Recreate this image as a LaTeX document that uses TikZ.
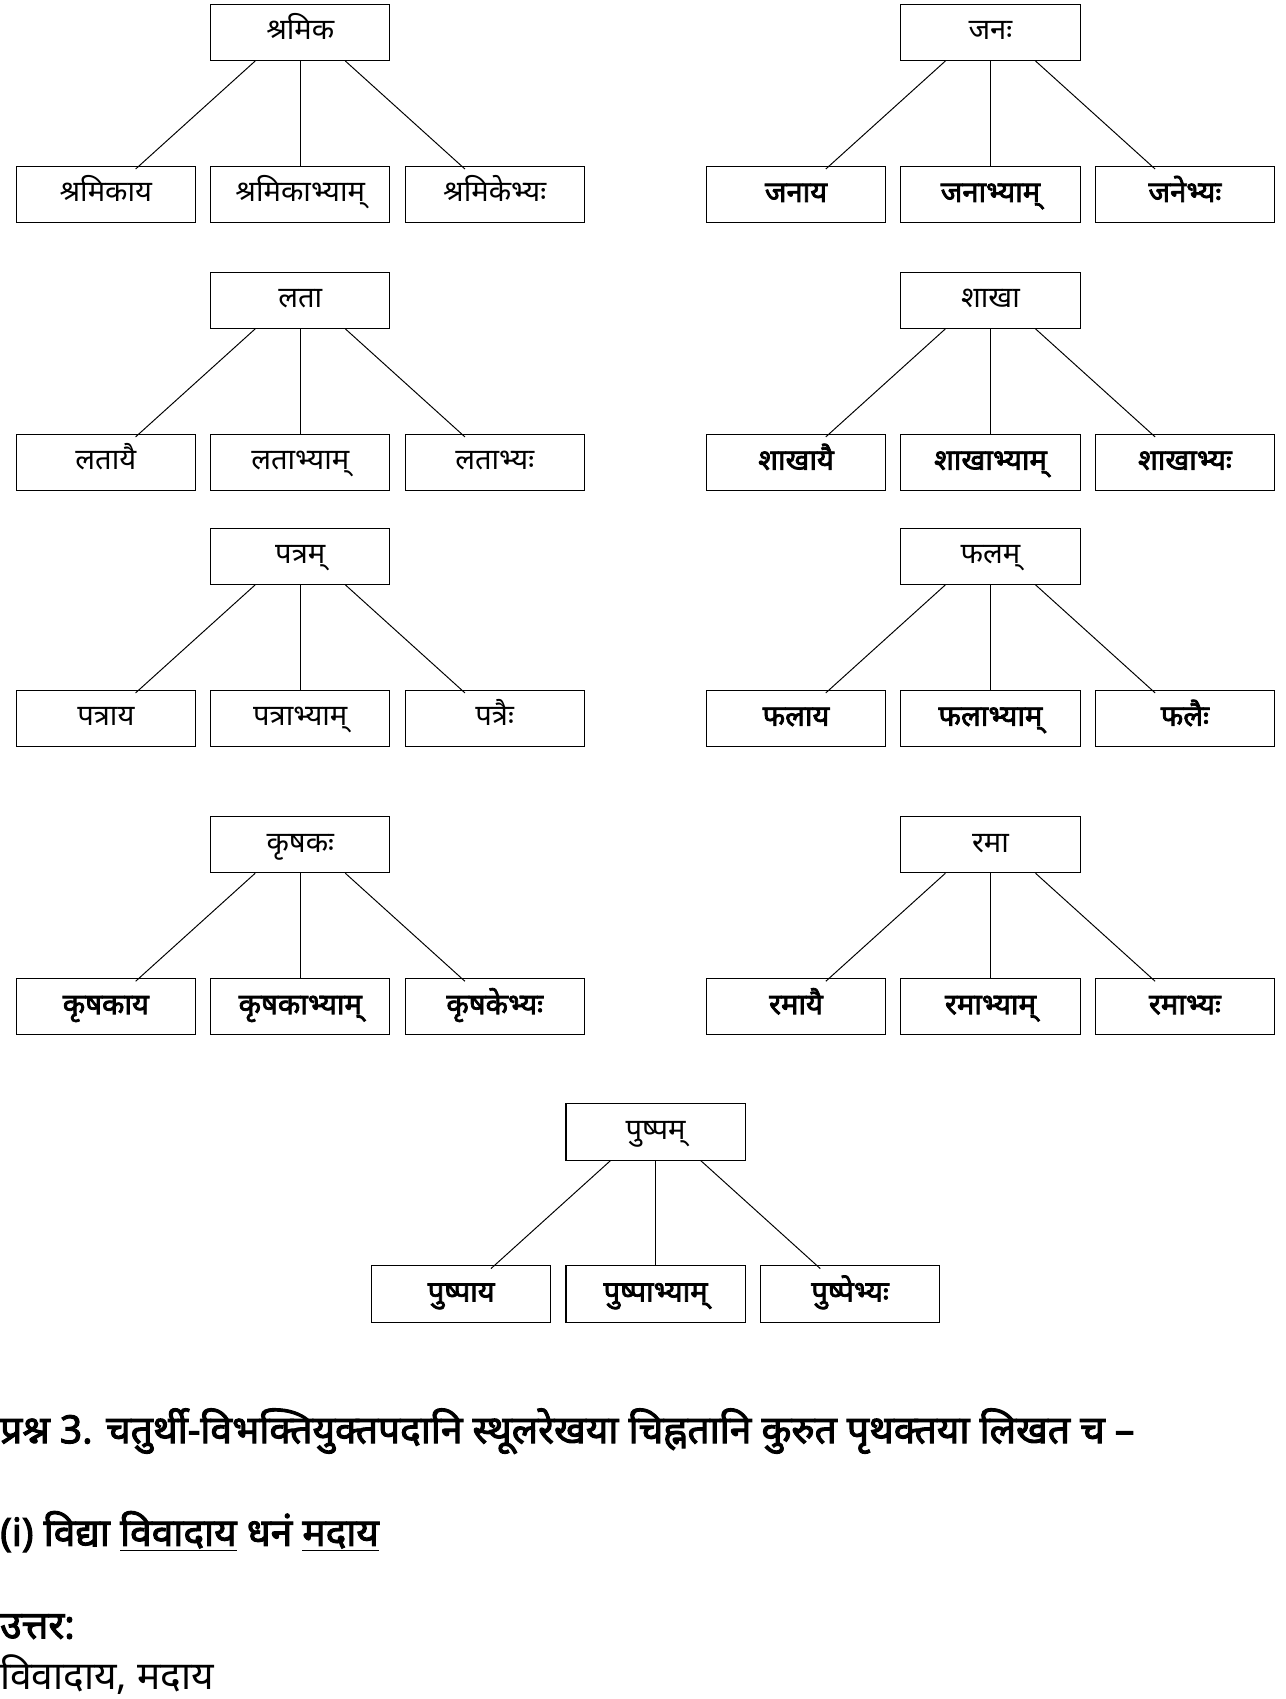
\documentclass[tikz,border=0pt]{standalone}
\usepackage{fontspec}
\setmainfont[Script=Devanagari, AutoFakeBold=2.5]{Noto Sans}
\usetikzlibrary{positioning,calc}
\tikzstyle{wbox}=[draw, line width=1pt, minimum width=166pt, minimum height=52pt, inner sep=0pt, text height=20pt, text depth=6pt, font=\fontsize{27}{30}\selectfont]
\tikzstyle{branch}=[line width=0.9pt]
\newcommand{\wordtree}[8]{%
  \node(#1t) [wbox] at (#2, #3){#4};
  \node(#1a) [wbox, font=\fontsize{27}{30}\selectfont#8] at (#2-180, #3+150){#5};
  \node(#1b) [wbox, font=\fontsize{27}{30}\selectfont#8] at (#2, #3+150){#6};
  \node(#1c) [wbox, font=\fontsize{27}{30}\selectfont#8] at (#2+180, #3+150){#7};
  \draw[branch] ($(#1t.south)!0.5!(#1t.south west)$) to ($(#1a.north)!0.33!(#1a.north east)+(0,3)$);
  \draw[branch] (#1t.south) to (#1b.north);
  \draw[branch] ($(#1t.south)!0.5!(#1t.south east)$) to ($(#1c.north)!0.33!(#1c.north west)+(0,3)$);
}
\begin{document}
\begin{tikzpicture}[x=1pt, y=-1pt]
  \useasboundingbox (0,0) rectangle (1190,1573);
  \wordtree{sh}{278}{30}{श्रमिक}{श्रमिकाय}{श्रमिकाभ्याम्}{श्रमिकेभ्यः}{}
  \wordtree{jn}{917}{30}{जनः}{जनाय}{जनाभ्याम्}{जनेभ्यः}{\bfseries}
  \wordtree{lt}{278}{278}{लता}{लतायै}{लताभ्याम्}{लताभ्यः}{}
  \wordtree{sk}{917}{278}{शाखा}{शाखायै}{शाखाभ्याम्}{शाखाभ्यः}{\bfseries}
  \wordtree{pt}{278}{515}{पत्रम्}{पत्राय}{पत्राभ्याम्}{पत्रैः}{}
  \wordtree{fl}{917}{515}{फलम्}{फलाय}{फलाभ्याम्}{फलैः}{\bfseries}
  \wordtree{kr}{278}{782}{कृषकः}{कृषकाय}{कृषकाभ्याम्}{कृषकेभ्यः}{\bfseries}
  \wordtree{rm}{917}{782}{रमा}{रमायै}{रमाभ्याम्}{रमाभ्यः}{\bfseries}
  \wordtree{pu}{607}{1048}{पुष्पम्}{पुष्पाय}{पुष्पाभ्याम्}{पुष्पेभ्यः}{\bfseries}
  % question and answer
  \node(q) [anchor=west, font=\fontsize{36}{40}\selectfont\bfseries, inner sep=0pt] at (0,1325){प्रश्न 3. चतुर्थी-विभक्तियुक्तपदानि स्थूलरेखया चिह्नतानि कुरुत पृथक्तया लिखत च –};
  \node(ex) [anchor=west, font=\fontsize{36}{40}\selectfont\bfseries, inner sep=0pt] at (0,1418){(i) विद्या \underline{विवादाय} धनं \underline{मदाय}};
  \node(ans) [anchor=west, font=\fontsize{36}{40}\selectfont\bfseries, inner sep=0pt] at (0,1506){उत्तर:};
  \node(res) [anchor=west, font=\fontsize{36}{40}\selectfont, inner sep=0pt] at (0,1550){विवादाय, मदाय};
\end{tikzpicture}
\end{document}
